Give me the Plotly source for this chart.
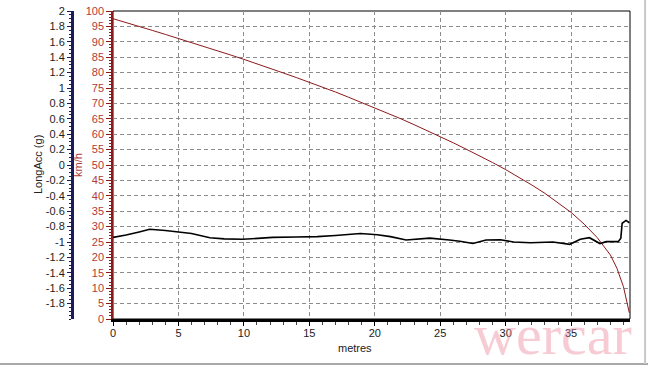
import plotly.graph_objects as go

# Speed (km/h) vs distance (metres)
speed_dist = [0, 1, 2, 3, 4, 5, 6, 7, 8, 9, 10, 11, 12, 13, 14, 15, 16, 17, 18, 19,
              20, 21, 22, 23, 24, 25, 26, 27, 28, 29, 30, 31, 32, 33, 34, 35, 36, 37,
              38, 38.5, 39, 39.3, 39.45]
speed_kmh = [97.5, 96.3, 95.0, 93.7, 92.4, 91.1, 89.8, 88.5, 87.1, 85.7, 84.3, 82.9,
             81.4, 79.9, 78.4, 76.9, 75.3, 73.7, 72.0, 70.3, 68.6, 66.8, 65.0, 63.1,
             61.2, 59.2, 57.2, 55.1, 53.0, 50.8, 48.5, 46.1, 43.5, 40.8, 37.8, 34.6,
             30.8, 26.4, 20.8, 16.5, 10.5, 5.0, 2.0]

# Longitudinal acceleration (g) vs distance (metres)
acc_dist = [0, 1, 2, 2.8, 4, 5, 6, 7.4, 8.5, 9.9, 11, 12.2, 14, 15.6, 17, 18.9, 20.2,
            21.2, 22.4, 23.3, 24.2, 25.7, 26.5, 27.5, 28.5, 29.6, 30.6, 31.9, 33.6,
            34.9, 35.7, 36.4, 37.2, 37.7, 38.6, 38.8, 38.9, 39.2, 39.45]
acc_g = [-0.94, -0.91, -0.87, -0.835, -0.85, -0.866, -0.89, -0.944, -0.96, -0.965,
         -0.955, -0.94, -0.935, -0.93, -0.915, -0.89, -0.905, -0.93, -0.974, -0.96,
         -0.95, -0.974, -0.99, -1.02, -0.974, -0.97, -1.0, -1.01, -1.0, -1.03, -0.965,
         -0.944, -1.02, -0.995, -0.995, -0.95, -0.757, -0.72, -0.75]

x_ticks = [0, 5, 10, 15, 20, 25, 30, 35]
kmh_ticks = list(range(0, 101, 5))
g_tickvals = [2, 1.8, 1.6, 1.4, 1.2, 1, 0.8, 0.6, 0.4, 0.2, 0, -0.2, -0.4, -0.6,
              -0.8, -1, -1.2, -1.4, -1.6, -1.8]
g_ticktext = ["2", "1.8", "1.6", "1.4", "1.2", "1", "0.8", "0.6", "0.4", "0.2", "0",
              "-0.2", "-0.4", "-0.6", "-0.8", "-1", "-1.2", "-1.4", "-1.6", "-1.8"]

RED = "#8b1a1a"
RED_TXT = "#b03a3a"
NAVY = "#1c1c5c"
GRID = "#8c8c8c"
FONT = "Liberation Sans, Arial, sans-serif"

fig = go.Figure()
fig.add_trace(go.Scatter(x=speed_dist, y=speed_kmh, mode="lines",
                         line=dict(color=RED, width=1), yaxis="y", showlegend=False))
fig.add_trace(go.Scatter(x=acc_dist, y=acc_g, mode="lines",
                         line=dict(color="black", width=1.6), yaxis="y2", showlegend=False))

fig.update_layout(
    width=648, height=365,
    margin=dict(l=72, r=18, t=11, b=46, pad=0),
    paper_bgcolor="white", plot_bgcolor="white",
    font=dict(family=FONT, size=11, color="#222"),
    xaxis=dict(domain=[0.0735, 1], range=[0, 39.5], tickvals=x_ticks, automargin=False,
               showgrid=True, gridcolor=GRID, griddash="4px,3px", gridwidth=1,
               showline=True, linecolor="black", linewidth=2.5,
               ticks="outside", ticklen=4, tickcolor="black", ticklabelstandoff=-2,
               minor=dict(dtick=1, ticks="outside", ticklen=3, tickcolor="#444"),
               zeroline=False, tickfont=dict(size=11, color="#222")),
    yaxis=dict(range=[0, 100], anchor="x", side="left", tickvals=kmh_ticks, automargin=False,
               tickfont=dict(size=11, color=RED_TXT),
               showline=True, linecolor=RED, linewidth=1.5,
               ticks="outside", ticklen=5, tickcolor=RED,
               minor=dict(dtick=1, ticks="outside", ticklen=2, tickcolor=RED),
               showgrid=True, gridcolor=GRID, griddash="4px,3px", gridwidth=1,
               zeroline=False),
    yaxis2=dict(range=[-2, 2], overlaying="y", anchor="free", position=0, side="left",
                tickvals=g_tickvals, ticktext=g_ticktext, automargin=False,
                tickfont=dict(size=11, color="#222"),
                showline=True, linecolor=NAVY, linewidth=3,
                ticks="outside", ticklen=4, tickcolor=NAVY,
                minor=dict(dtick=0.05, ticks="outside", ticklen=2, tickcolor=NAVY),
                showgrid=False, zeroline=False),
    shapes=[
        dict(type="rect", xref="x domain", yref="y domain", x0=0, x1=1, y0=0, y1=1,
             line=dict(color="black", width=1), layer="below"),
        dict(type="line", xref="paper", yref="paper", x0=-0.2, x1=1.05, y0=-0.146, y1=-0.146,
             line=dict(color="#a8a8a8", width=2)),
        dict(type="line", xref="paper", yref="paper", x0=1.027, x1=1.027, y0=-0.146, y1=1.1,
             line=dict(color="#c8c8c8", width=2)),
    ],
    annotations=[
        dict(text="wercar", xref="paper", yref="paper", x=0.862, y=-0.05,
             showarrow=False,
             font=dict(family="Liberation Serif, Times New Roman, serif", size=58,
                       color="rgba(236,140,160,0.45)"),
             xanchor="center", yanchor="middle"),
        dict(text="LongAcc (g)", xref="paper", yref="paper", x=-0.0609, y=0.5,
             textangle=-90, showarrow=False, font=dict(size=11, color="#222"),
             xanchor="center", yanchor="middle"),
        dict(text="km/h", xref="paper", yref="paper", x=0.0108, y=0.5,
             textangle=-90, showarrow=False, font=dict(size=11, color=RED_TXT),
             xanchor="center", yanchor="middle"),
        dict(text="metres", xref="paper", yref="paper", x=0.507, y=-0.094,
             showarrow=False, font=dict(size=11, color="#222"),
             xanchor="center", yanchor="middle"),
    ],
)

fig.write_html("out.html")
